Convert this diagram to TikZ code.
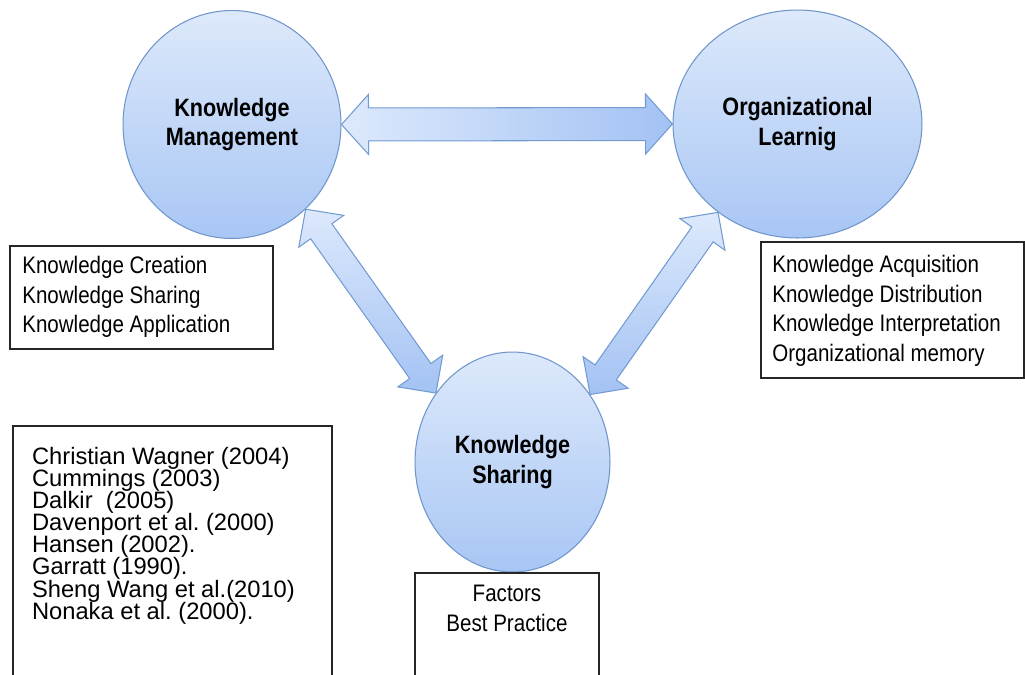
\documentclass[tikz,border=0pt]{standalone}
\usepackage{fontspec}
\setmainfont{Liberation Sans}
\newfontfamily\narrowfont[FakeStretch=0.86]{Liberation Sans}
\usepackage{tikz}
\usetikzlibrary{shapes.geometric,calc,positioning}
\frenchspacing

\definecolor{bubbletop}{HTML}{DDE9FB}
\definecolor{bubblebot}{HTML}{A8C6F4}
\definecolor{bubbleline}{HTML}{6F96CB}
\definecolor{arrowlight}{HTML}{DDE9FC}
\definecolor{arrowdark}{HTML}{A3C2F3}
\definecolor{arrowline}{HTML}{729BD2}

% fat double arrow between two points: [shading] from, to, shaft half width, head half width
\newcommand\fatarrow[5][]{%
  \shadedraw[bigarrow,#1] (#2)
    -- ($(#2)!0.54cm!(#3)!#5!90:(#3)$)
    -- ($(#2)!0.54cm!(#3)!#4!90:(#3)$)
    -- ($(#3)!0.54cm!(#2)!#4!-90:(#2)$)
    -- ($(#3)!0.54cm!(#2)!#5!-90:(#2)$)
    -- (#3)
    -- ($(#3)!0.54cm!(#2)!#5!90:(#2)$)
    -- ($(#3)!0.54cm!(#2)!#4!90:(#2)$)
    -- ($(#2)!0.54cm!(#3)!#4!-90:(#3)$)
    -- ($(#2)!0.54cm!(#3)!#5!-90:(#3)$)
    -- cycle;}

\begin{document}
\begin{tikzpicture}[x=0.02cm, y=-0.02cm,
    bubble/.style={ellipse, draw=bubbleline, line width=0.6pt,
      top color=bubbletop, bottom color=bubblebot, align=center,
      font=\narrowfont\bfseries\fontsize{14.3}{17}\selectfont},
    bigarrow/.style={draw=arrowline, line width=0.6pt},
    frame/.style={draw=black!85, line width=0.75pt},
    listtext/.style={inner sep=0pt, align=left,
      font=\narrowfont\fontsize{13.6}{17}\selectfont},
    reftext/.style={inner sep=0pt, align=left,
      font=\fontsize{13.5}{12.6}\selectfont}]

    \useasboundingbox (0,0) rectangle (1025,674);

    % Three main concepts
    \node[bubble, minimum width=4.36cm, minimum height=4.56cm] (km) at (232,124.5)
        {Knowledge\\Management};
    \node[bubble, minimum width=4.98cm, minimum height=4.56cm] (ol) at (797.5,124)
        {Organizational\\Learnig};
    \node[bubble, minimum width=3.9cm, minimum height=4.4cm] (ks) at (512.5,462)
        {Knowledge\\Sharing};

    % Links
    \fatarrow[left color=arrowlight, right color=arrowdark]{km.east}{ol.west}{0.33cm}{0.6cm}
    \fatarrow[top color=arrowlight, bottom color=arrowdark]{km.-49}{ks.138}{0.26cm}{0.55cm}
    \fatarrow[top color=arrowlight, bottom color=arrowdark]{ol.228}{ks.41}{0.26cm}{0.55cm}

    % Knowledge Management: processes
    \draw[frame] (10,246) rectangle (273,349);
    \node[listtext, anchor=north west] (kmlist) at (22,255.5)
        {Knowledge Creation\\Knowledge Sharing\\Knowledge Application};

    % Organizational learning: processes
    \draw[frame] (761,242) rectangle (1024,378);
    \node[listtext, anchor=north west] (ollist) at (772,254.5)
        {Knowledge Acquisition\\Knowledge Distribution\\Knowledge Interpretation\\Organizational memory};

    % Knowledge sharing
    \draw[frame] (415,573) rectangle (599,690);
    \node[listtext, align=center, anchor=north] (kslist) at (507,584.5)
        {Factors\\Best Practice};

    % Sources
    \draw[frame] (13,426) rectangle (332,690);
    \node[reftext, anchor=north west] (refs) at (31.7,446.7)
        {Christian Wagner (2004)\\Cummings (2003)\\Dalkir\ \ (2005)\\Davenport et al. (2000)\\Hansen (2002).\\Garratt (1990).\\Sheng Wang et al.(2010)\\Nonaka et al. (2000).};

\end{tikzpicture}
\end{document}
